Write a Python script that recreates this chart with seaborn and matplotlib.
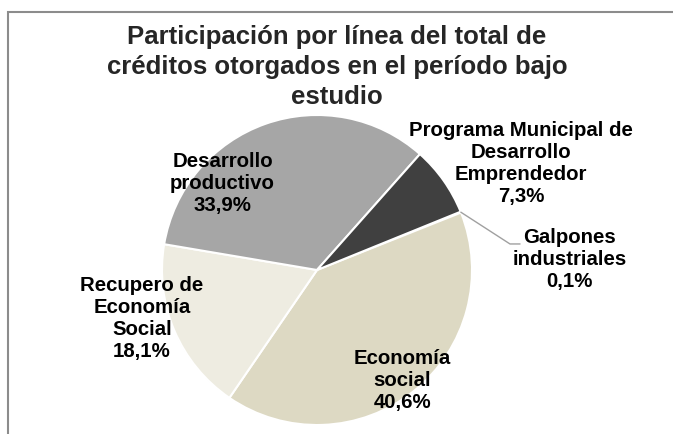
import matplotlib.pyplot as plt
import seaborn as sns
from matplotlib.patches import Rectangle

# --------------------------------------------------------------
# Data
# --------------------------------------------------------------

lineas = [
    "Galpones\nindustriales",
    "Economía\nsocial",
    "Recupero de\nEconomía\nSocial",
    "Desarrollo\nproductivo",
    "Programa Municipal de\nDesarrollo\nEmprendedor",
]
participacion = [0.1, 40.6, 18.1, 33.9, 7.3]
colores = ["#7F7F7F", "#DDD9C3", "#EEECE1", "#A6A6A6", "#404040"]

# label positions (pie data coords, radius = 1)
label_pos = [
    (1.63, 0.065),
    (0.55, -0.71),
    (-1.13, -0.31),
    (-0.61, 0.555),
    (1.315, 0.685),
]

titulo = "Participación por línea del total de\ncréditos otorgados en el período bajo\nestudio"

# --------------------------------------------------------------
# Plot
# --------------------------------------------------------------

sns.set_theme(style="white")
plt.rcParams["font.family"] = ["Liberation Sans", "DejaVu Sans"]

fig = plt.figure(figsize=(6.73, 4.34), dpi=100)
fig.patch.set_facecolor("white")

# chart frame (cut off at right and bottom like the reference)
fig.add_artist(
    Rectangle(
        (8 / 673, -0.1), 1.2, 1 - 12 / 434 + 0.1,
        transform=fig.transFigure, fill=False, edgecolor="#8C8C8C", linewidth=1.5,
    )
)

ax = fig.add_axes([162 / 673, 9 / 434, 310 / 673, 310 / 434])
wedges, _ = ax.pie(
    participacion,
    colors=colores,
    startangle=22.1,
    counterclock=False,
    radius=1,
    wedgeprops=dict(edgecolor="white", linewidth=1.5),
)
ax.set_xlim(-1, 1)
ax.set_ylim(-1, 1)
ax.set_aspect("equal")
ax.axis("off")

for nombre, valor, (x, y) in zip(lineas, participacion, label_pos):
    ax.text(
        x, y, f"{nombre}\n{valor:.1f}%".replace(".", ","),
        ha="center", va="center", fontsize=14.7, fontweight="bold",
        color="black", linespacing=1.2, clip_on=False,
    )

# leader line for the tiny slice
ax.plot([0.928, 1.245, 1.31], [0.373, 0.168, 0.168], color="#A0A0A0",
        linewidth=1, clip_on=False)

fig.text(337 / 673, 1 - 67 / 434, titulo, ha="center", va="center",
         fontsize=18.5, fontweight="bold", linespacing=1.32)

fig.savefig("out.png", dpi=100, facecolor="white")
